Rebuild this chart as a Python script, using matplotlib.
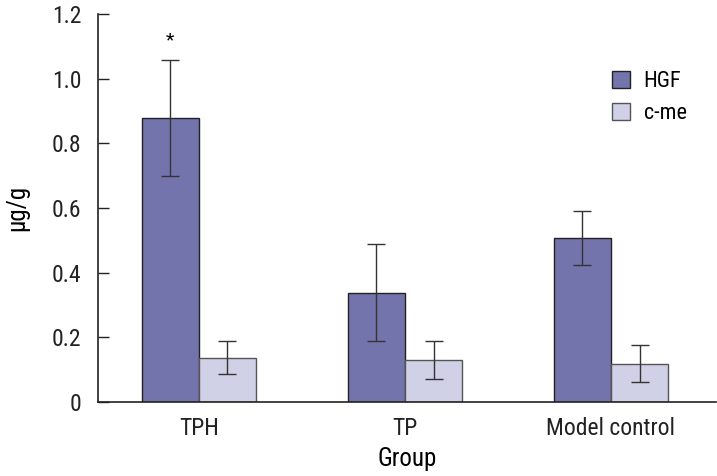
import matplotlib.pyplot as plt
import numpy as np

plt.rcParams['font.family'] = ['Roboto Condensed', 'DejaVu Sans']

groups = ['TPH', 'TP', 'Model control']
hgf = [0.878, 0.338, 0.507]
hgf_err = [0.180, 0.150, 0.083]
cme = [0.137, 0.130, 0.118]
cme_err = [0.051, 0.060, 0.057]

x = np.arange(len(groups))
w = 0.277

fig = plt.figure(figsize=(7.17, 4.76), dpi=100)
ax = fig.add_axes([0.1367, 0.1555, 0.862, 0.815])

err_kw = dict(ecolor='#333333', elinewidth=1, capsize=6.5, capthick=1)
ax.bar(x - w / 2, hgf, w, yerr=hgf_err, color='#7474ad', edgecolor='#222222',
       linewidth=1, label='HGF', error_kw=err_kw)
ax.bar(x + w / 2, cme, w, yerr=cme_err, color='#d0d0e6', edgecolor='#555555',
       linewidth=1, label='c-me', error_kw=err_kw)

# significance mark
ax.text(x[0] - w / 2, 1.12, '*', ha='center', va='center', fontsize=14)

ax.set_xlim(-0.49, 2.51)
ax.set_ylim(0, 1.2)
ax.set_yticks([0, 0.2, 0.4, 0.6, 0.8, 1.0, 1.2])
ax.set_yticklabels(['0', '0.2', '0.4', '0.6', '0.8', '1.0', '1.2'])
ax.set_xticks(x)
ax.set_xticklabels(groups)
ax.tick_params(axis='y', direction='in', length=8, width=1, labelsize=17, pad=12,
               colors='#222222')
ax.tick_params(axis='x', length=0, labelsize=17, pad=11, colors='#222222')
for s in ['top', 'right']:
    ax.spines[s].set_visible(False)
for s in ['left', 'bottom']:
    ax.spines[s].set_linewidth(1.2)
    ax.spines[s].set_color('#222222')

ax.set_ylabel('μg/g', fontsize=18, labelpad=16)
ax.set_xlabel('Group', fontsize=18, labelpad=5)

ax.legend(loc='upper left', bbox_to_anchor=(0.80, 0.905), frameon=False,
          fontsize=16, handlelength=0.8, handleheight=0.8, handletextpad=0.6,
          labelspacing=0.5)

fig.savefig('out.png', dpi=100)
